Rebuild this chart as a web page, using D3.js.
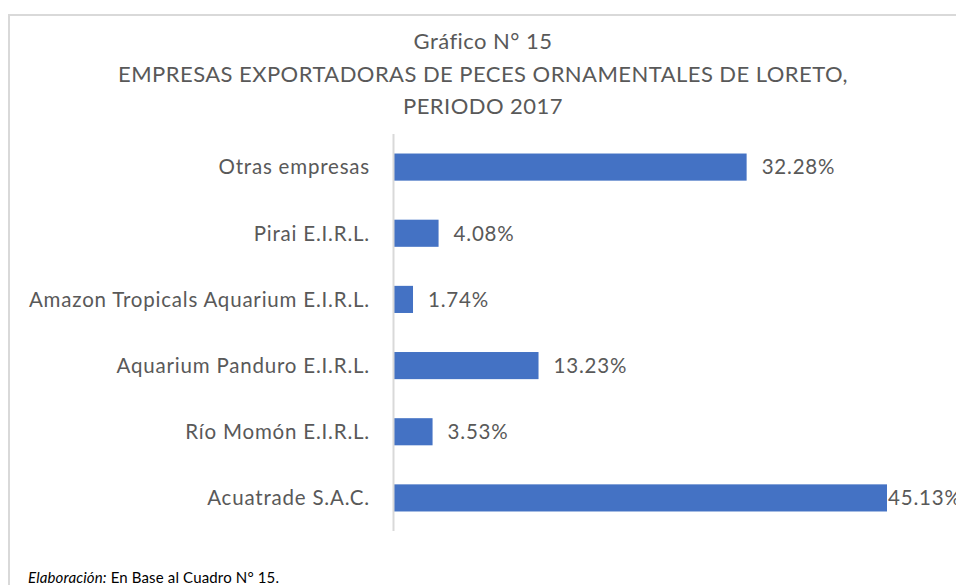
<!DOCTYPE html>
<html>
<head>
<meta charset="utf-8">
<script src="https://cdn.jsdelivr.net/npm/d3@7"></script>
<style>
  body { margin: 0; background: #fff; }
  svg text { font-family: Lato, "Open Sans", sans-serif; }
</style>
</head>
<body>
<svg width="956" height="585"></svg>
<script>
// datos
var empresas = [
    'Otras empresas',
    'Pirai E.I.R.L.',
    'Amazon Tropicals Aquarium E.I.R.L.',
    'Aquarium Panduro E.I.R.L.',
    'Río Momón E.I.R.L.',
    'Acuatrade S.A.C.'
]
var porcentajes = [32.28, 4.08, 1.74, 13.23, 3.53, 45.13]
var titulo = ['Gráfico N° 15', 'EMPRESAS EXPORTADORAS DE PECES ORNAMENTALES DE LORETO,', 'PERIODO 2017']

var svg = d3.select('svg')

// marco del gráfico
svg.append('rect')
    .attr('x', 9).attr('y', 15)
    .attr('width', 960).attr('height', 600)
    .attr('fill', '#fff')
    .attr('stroke', '#d9d9d9')
    .attr('stroke-width', 2)

// titulo
svg.selectAll('.titulo').data(titulo).enter().append('text')
    .attr('class', 'titulo')
    .attr('x', 483)
    .attr('y', function (_, i) { return 49 + i * 32.5 })
    .attr('text-anchor', 'middle')
    .attr('font-size', 22)
    .attr('letter-spacing', 0.45)
    .attr('fill', '#595959')
    .text(function (d) { return d })

var x = d3.scaleLinear().domain([0, 45.13]).range([394, 887])
var y = d3.scaleBand().domain(empresas).range([134, 531]).paddingInner(0.59).paddingOuter(0.295)

// barras
svg.selectAll('.barra').data(porcentajes).enter().append('rect')
    .attr('class', 'barra')
    .attr('x', x(0))
    .attr('y', function (_, i) { return y(empresas[i]) })
    .attr('width', function (d) { return x(d) - x(0) })
    .attr('height', y.bandwidth())
    .attr('fill', '#4472c4')

// eje vertical
svg.append('line')
    .attr('x1', x(0) - 0.5).attr('x2', x(0) - 0.5)
    .attr('y1', 134).attr('y2', 531)
    .attr('stroke', '#d9d9d9')
    .attr('stroke-width', 2)

// etiquetas de categoría
svg.selectAll('.cat').data(empresas).enter().append('text')
    .attr('class', 'cat')
    .attr('x', 370)
    .attr('y', function (d) { return y(d) + y.bandwidth() / 2 })
    .attr('dy', '0.36em')
    .attr('text-anchor', 'end')
    .attr('font-size', 20.5)
    .attr('letter-spacing', 0.8)
    .attr('fill', '#595959')
    .text(function (d) { return d })

// etiquetas de valor (la última queda pegada a la barra y cortada, como en el original)
svg.selectAll('.valor').data(porcentajes).enter().append('text')
    .attr('class', 'valor')
    .attr('x', function (d) { return x(d) + 80 > 956 ? x(d) + 1 : x(d) + 15 })
    .attr('y', function (_, i) { return y(empresas[i]) + y.bandwidth() / 2 })
    .attr('dy', '0.36em')
    .attr('font-size', 20.5)
    .attr('letter-spacing', 0.8)
    .attr('fill', '#595959')
    .text(function (d) { return d.toFixed(2) + '%' })

// nota
var nota = svg.append('text')
    .attr('x', 28).attr('y', 583)
    .attr('font-size', 15)
    .attr('letter-spacing', 0.15)
    .attr('fill', '#000')
nota.append('tspan').attr('font-style', 'italic').text('Elaboración:')
nota.append('tspan').text(' En Base al Cuadro N° 15.')
</script>
</body>
</html>
